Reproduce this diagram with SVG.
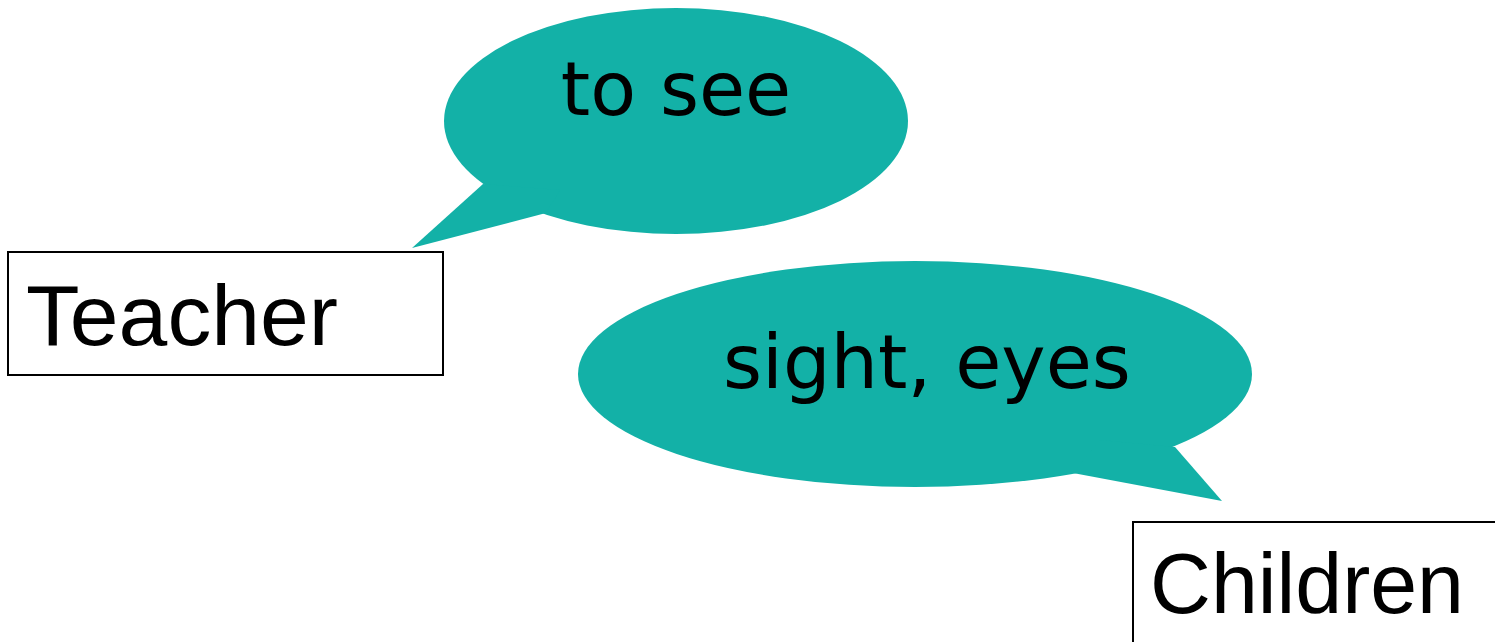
<svg xmlns="http://www.w3.org/2000/svg" width="1495" height="642" viewBox="0 0 1495 642">
<style>
.bubble{fill:#13B1A7;stroke:none}
.box{fill:#fff;stroke:#000;stroke-width:2}
.t{font-family:"Liberation Sans",Arial,sans-serif;font-size:86px;fill:#000}
.b{font-family:"DejaVu Sans",Verdana,sans-serif;font-size:75px;fill:#000}
</style>
<rect width="1495" height="642" fill="#fff"/>
<g id="bubble-to-see">
<ellipse class="bubble" cx="676" cy="121" rx="232" ry="113"/>
<polygon class="bubble" points="483,184 412,248 546,213 560,190"/>
<text class="b" x="676" y="115" text-anchor="middle">to see</text>
</g>
<g id="bubble-sight">
<ellipse class="bubble" cx="915" cy="374" rx="337" ry="113"/>
<polygon class="bubble" points="1175,447 1222,501 1073,473 1100,440"/>
<text class="b" x="927" y="388" text-anchor="middle">sight, eyes</text>
</g>
<g id="teacher">
<rect class="box" x="8" y="252" width="435" height="123"/>
<text class="t" x="26" y="345" textLength="312" lengthAdjust="spacingAndGlyphs">Teacher</text>
</g>
<g id="children">
<rect class="box" x="1133" y="522" width="380" height="140"/>
<text class="t" x="1150" y="613" textLength="314" lengthAdjust="spacingAndGlyphs">Children</text>
</g>
<g id="connectors"/>
</svg>
